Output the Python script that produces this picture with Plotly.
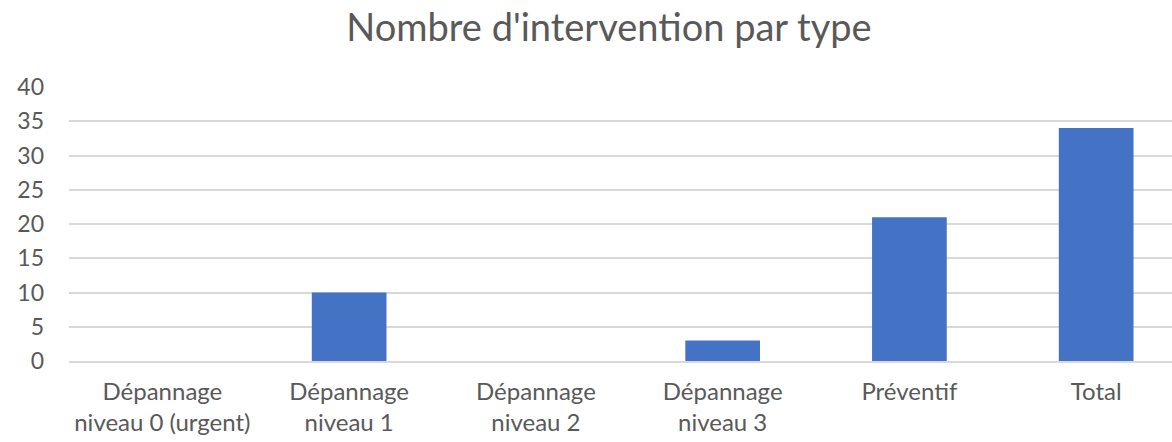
import plotly.graph_objects as go

categories = ["Dépannage<br>niveau 0 (urgent)", "Dépannage<br>niveau 1", "Dépannage<br>niveau 2",
              "Dépannage<br>niveau 3", "Préventif", "Total"]
values = [0, 10, 0, 3, 21, 34]
y_ticks = [0, 5, 10, 15, 20, 25, 30, 35, 40]

FONT = "Lato"
TXT = "#595959"

fig = go.Figure(go.Bar(x=list(range(len(categories))), y=values,
                       marker=dict(color="#4472C4", line=dict(width=0)),
                       width=0.4))

fig.update_layout(
    width=1172, height=442,
    margin=dict(l=69, r=0, t=87, b=81),
    paper_bgcolor="white", plot_bgcolor="white",
    showlegend=False,
    font=dict(family=FONT, color=TXT, size=23),
    title=dict(text="Nombre d'intervention par type", x=609/1172, xref="container", xanchor="center",
               y=1-28/442, yref="container", yanchor="middle",
               font=dict(family=FONT, size=38, color=TXT)),
    xaxis=dict(tickmode="array", tickvals=list(range(len(categories))), ticktext=categories,
               range=[-0.5, 5.406], showgrid=False, showline=True, linecolor="#D9D9D9", linewidth=1.5,
               ticks="", tickfont=dict(size=24, color=TXT), ticklabelstandoff=8),
    yaxis=dict(range=[0, 40], tickvals=y_ticks, showgrid=True, gridcolor="#D9D9D9", gridwidth=1.5,
               zeroline=False, ticks="", tickfont=dict(size=23, color=TXT), ticklabelstandoff=24),
)

fig.write_html("out.html", config={"displayModeBar": False},
               post_script="document.body.style.margin='0';document.body.style.overflow='hidden';")
